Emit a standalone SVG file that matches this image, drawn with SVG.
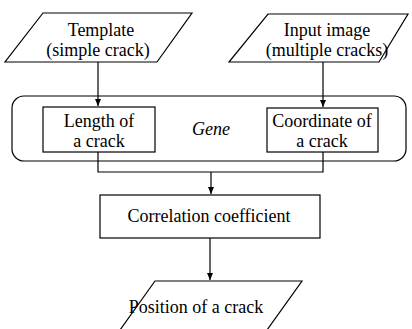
<svg xmlns="http://www.w3.org/2000/svg" width="412" height="329" viewBox="0 0 412 329">
<style>
.s{fill:#fff;stroke:#000;stroke-width:1.2}
.c{fill:none;stroke:#000;stroke-width:1.2}
text{font-family:'Liberation Serif','Times New Roman',serif;font-size:18px;fill:#000;text-anchor:middle}
</style>
<defs>
<marker id="a" markerWidth="8" markerHeight="8" refX="7" refY="4" orient="auto" markerUnits="userSpaceOnUse">
<path d="M0,1 L7,4 L0,7 Z" fill="#000"/>
</marker>
</defs>
<rect width="412" height="329" fill="#fff"/>
<g id="gene">
<rect class="s" x="12" y="96" width="394" height="65" rx="12"/>
<text x="211" y="135" font-style="italic">Gene</text>
</g>
<g id="connectors">
<line class="c" x1="98" y1="62" x2="98" y2="106" marker-end="url(#a)"/>
<line class="c" x1="323" y1="62" x2="323" y2="107" marker-end="url(#a)"/>
<polyline class="c" points="98,152 98,172 323,172 323,152"/>
<line class="c" x1="211" y1="172" x2="211" y2="194" marker-end="url(#a)"/>
<line class="c" x1="210" y1="238" x2="210" y2="280" marker-end="url(#a)"/>
</g>
<g id="template">
<polygon class="s" points="43,13 192,13 157,62 5,62"/>
<text x="101" y="36">Template</text>
<text x="98" y="56">(simple crack)</text>
</g>
<g id="input">
<polygon class="s" points="268,14 408,14 379,62 229,62"/>
<text x="327" y="36">Input image</text>
<text x="327" y="56">(multiple cracks)</text>
</g>
<g id="length">
<rect class="s" x="43" y="107" width="112" height="45"/>
<text x="99" y="127">Length of</text>
<text x="99" y="147">a crack</text>
</g>
<g id="coordinate">
<rect class="s" x="267" y="108" width="111" height="44"/>
<text x="322" y="127">Coordinate of</text>
<text x="322" y="147">a crack</text>
</g>
<g id="correlation">
<rect class="s" x="100" y="195" width="220" height="43"/>
<text x="209" y="222">Correlation coefficient</text>
</g>
<g id="position">
<polygon class="s" points="155,281 302,281 267,330 120,330"/>
<text x="196" y="313">Position of a crack</text>
</g>
</svg>
